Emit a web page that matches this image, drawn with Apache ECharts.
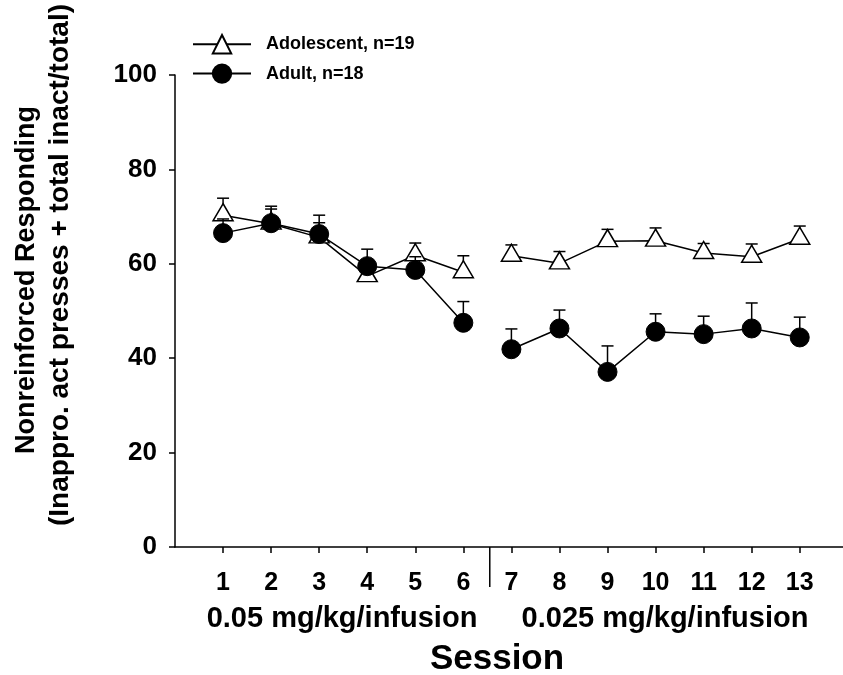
<!DOCTYPE html>
<html>
<head>
<meta charset="utf-8">
<script src="https://cdn.jsdelivr.net/npm/echarts@6/dist/echarts.min.js"></script>
<style>html,body{margin:0;padding:0;background:#fff}#c{width:843px;height:675px}</style>
</head>
<body>
<div id="c"></div>
<script>
var sessions = [1,2,3,4,5,6,7,8,9,10,11,12,13];
var phase = [1,1,1,1,1,1,2,2,2,2,2,2,2];
var yTicks = [0,20,40,60,80,100];
var adolescentMean  = [70.3,68.5,65.6,57.4,61.8,58.2,61.7,60.1,64.8,64.9,62.3,61.5,65.3];
var adolescentUpper = [73.9,71.6,68.7,59.8,64.4,61.7,64.0,62.6,67.3,67.6,64.3,64.2,68.0];
var adultMean  = [66.5,68.6,66.3,59.5,58.7,47.5,41.9,46.3,37.1,45.6,45.1,46.3,44.4];
var adultUpper = [69.5,72.2,70.3,63.1,61.5,52.0,46.2,50.2,42.6,49.4,48.9,51.7,48.7];
var seriesNames = ['Adolescent, n=19','Adult, n=18'];
var phaseLabels = ['0.05 mg/kg/infusion','0.025 mg/kg/infusion'];
var xTitle = 'Session';
var yTitle1 = 'Nonreinforced Responding';
var yTitle2 = '(Inappro. act presses + total inact/total)';

var FONT = '"Liberation Sans", Arial, sans-serif';

function lineData(vals){
  var out = [];
  for (var i=0;i<sessions.length;i++){
    if (i>0 && phase[i]!==phase[i-1]) out.push([(sessions[i]+sessions[i-1])/2,'-']);
    out.push([sessions[i], vals[i]]);
  }
  return out;
}
function errData(vals, up){
  return sessions.map(function(s,i){return [s, vals[i], up[i]];});
}
var breakX = 0;
for (var i=1;i<sessions.length;i++){ if(phase[i]!==phase[i-1]) breakX=(sessions[i]+sessions[i-1])/2 + 0.05; }

function errRender(params, api){
  var x = api.value(0), m = api.value(1), u = api.value(2);
  var p0 = api.coord([x,m]), p1 = api.coord([x,u]);
  var hw = 6;
  return {type:'group', children:[
    {type:'line', shape:{x1:p0[0],y1:p0[1],x2:p1[0],y2:p1[1]}, style:{stroke:'#000',lineWidth:1.5}},
    {type:'line', shape:{x1:p1[0]-hw,y1:p1[1],x2:p1[0]+hw,y2:p1[1]}, style:{stroke:'#000',lineWidth:1.5}}
  ]};
}

var chart = echarts.init(document.getElementById('c'), null, {renderer:'canvas'});
chart.setOption({
  animation:false,
  backgroundColor:'#fff',
  grid:{left:175, right:0, top:75, bottom:128},
  legend:{
    orient:'vertical', left:192, top:34, padding:0, itemWidth:58, itemHeight:23, itemGap:9,
    data:seriesNames,
    textStyle:{fontFamily:FONT, fontWeight:'bold', fontSize:18, color:'#000', padding:[0,0,0,10]}
  },
  xAxis:{
    type:'value', min:0, max:13.9,
    splitLine:{show:false},
    axisLine:{show:true, onZero:false, lineStyle:{color:'#000', width:1.5}},
    axisTick:{show:true, customValues:sessions, length:6, lineStyle:{color:'#000', width:1.5}},
    axisLabel:{customValues:sessions, margin:24, fontFamily:FONT, fontWeight:'bold', fontSize:25, color:'#000'}
  },
  yAxis:{
    type:'value', min:0, max:100, interval:20,
    splitLine:{show:false},
    axisLine:{show:true, lineStyle:{color:'#000', width:1.5}},
    axisTick:{show:true, customValues:yTicks, length:6, lineStyle:{color:'#000', width:1.5}},
    axisLabel:{customValues:yTicks, margin:18, fontFamily:FONT, fontWeight:'bold', fontSize:26, color:'#000'}
  },
  graphic:[
    {type:'text', x:27, y:280, rotation:Math.PI/2, style:{text:yTitle1, font:'bold 27px '+FONT, fill:'#000', align:'center', verticalAlign:'middle'}},
    {type:'text', x:60, y:265, rotation:Math.PI/2, style:{text:yTitle2, font:'bold 28px '+FONT, fill:'#000', align:'center', verticalAlign:'middle'}},
    {type:'text', x:342, y:619, style:{text:phaseLabels[0], font:'bold 29px '+FONT, fill:'#000', align:'center', verticalAlign:'middle'}},
    {type:'text', x:665, y:619, style:{text:phaseLabels[1], font:'bold 29px '+FONT, fill:'#000', align:'center', verticalAlign:'middle'}},
    {type:'text', x:497, y:659, style:{text:xTitle, font:'bold 35px '+FONT, fill:'#000', align:'center', verticalAlign:'middle'}}
  ],
  series:[
    {type:'custom', name:'breakLine', silent:true, clip:false, data:[[breakX,0]],
     renderItem:function(params, api){
       var p = api.coord([api.value(0), api.value(1)]);
       return {type:'line', shape:{x1:p[0],y1:p[1],x2:p[0],y2:p[1]+40}, style:{stroke:'#000',lineWidth:1.5}};
     }},
    {type:'custom', name:'adoErr', silent:true, clip:false, data:errData(adolescentMean, adolescentUpper), renderItem:errRender, z:1},
    {type:'line', name:seriesNames[0], data:lineData(adolescentMean), connectNulls:false,
     symbol:'triangle', symbolSize:[20,17], symbolOffset:[0,-3], showSymbol:true, z:2,
     lineStyle:{color:'#000', width:1.5},
     itemStyle:{color:'#fff', borderColor:'#000', borderWidth:1.5}},
    {type:'custom', name:'adultErr', silent:true, clip:false, data:errData(adultMean, adultUpper), renderItem:errRender, z:3},
    {type:'line', name:seriesNames[1], data:lineData(adultMean), connectNulls:false,
     symbol:'circle', symbolSize:19, showSymbol:true, z:4,
     lineStyle:{color:'#000', width:1.5},
     itemStyle:{color:'#000', borderColor:'#000', borderWidth:1}}
  ]
});
</script>
</body>
</html>
